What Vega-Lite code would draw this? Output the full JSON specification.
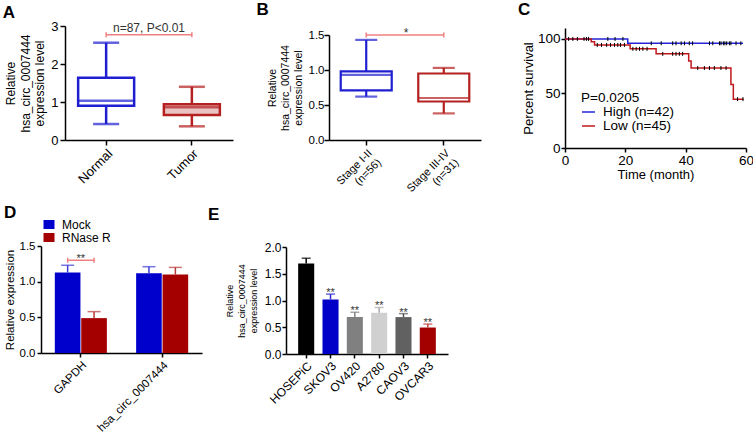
{
"$schema": "https://vega.github.io/schema/vega-lite/v6.json",
"padding": {"left": 2, "top": 0, "right": 2, "bottom": 0},
"datasets": {
 "boxA": [{"group":"Normal","min":0.42,"q1":0.90,"median":1.03,"q3":1.64,"max":2.56,"bracket":2.77,"note":"n=87, P<0.01"},{"group":"Tumor","min":0.36,"q1":0.66,"median":0.86,"q3":0.94,"max":1.40,"bracket":2.77,"note":""}],
 "boxB": [{"group":"Stage I-II (n=56)","min":0.62,"q1":0.71,"median":0.93,"q3":0.98,"max":1.43,"bracket":1.5,"note":"*"},{"group":"Stage III-IV (n=31)","min":0.38,"q1":0.55,"median":0.60,"q3":0.95,"max":1.03,"bracket":1.5,"note":""}],
 "kmLines": [
  {"group":"High (n=42)","time":0,"surv":100},{"group":"High (n=42)","time":20.8,"surv":96},{"group":"High (n=42)","time":59,"surv":96},
  {"group":"Low (n=45)","time":0,"surv":100},{"group":"Low (n=45)","time":8.7,"surv":97.5},{"group":"Low (n=45)","time":9.8,"surv":94.5},{"group":"Low (n=45)","time":21.6,"surv":90.9},{"group":"Low (n=45)","time":30.2,"surv":86.3},{"group":"Low (n=45)","time":41,"surv":79.7},{"group":"Low (n=45)","time":41.8,"surv":73.3},{"group":"Low (n=45)","time":55,"surv":58.2},{"group":"Low (n=45)","time":55.8,"surv":44.8},{"group":"Low (n=45)","time":59.2,"surv":44.8}
 ],
 "kmCensor": [
  {"time":1.2,"surv":100},{"time":2.6,"surv":100},{"time":4.1,"surv":100},{"time":6.3,"surv":100},{"time":7.1,"surv":100},{"time":7.8,"surv":100},{"time":14.2,"surv":100},{"time":16.6,"surv":100},{"time":19.2,"surv":100},
  {"time":28.6,"surv":96},{"time":31.9,"surv":96},{"time":35.7,"surv":96},{"time":36.8,"surv":96},{"time":38.5,"surv":96},{"time":39.6,"surv":96},{"time":41.2,"surv":96},{"time":42.3,"surv":96},{"time":47.9,"surv":96},{"time":49,"surv":96},{"time":51.2,"surv":96},{"time":51.7,"surv":96},{"time":52.5,"surv":96},{"time":53,"surv":96},{"time":53.6,"surv":96},{"time":54.5,"surv":96},{"time":55,"surv":96},{"time":56.7,"surv":96},{"time":58.3,"surv":96},
  {"time":10.7,"surv":94.5},{"time":12.1,"surv":94.5},{"time":13.8,"surv":94.5},{"time":15.1,"surv":94.5},{"time":16.4,"surv":94.5},{"time":17.5,"surv":94.5},{"time":18.4,"surv":94.5},{"time":19.7,"surv":94.5},
  {"time":22.5,"surv":90.9},{"time":23.6,"surv":90.9},{"time":24.7,"surv":90.9},{"time":25.8,"surv":90.9},{"time":27.2,"surv":90.9},
  {"time":32.4,"surv":86.3},{"time":35.7,"surv":86.3},{"time":36.8,"surv":86.3},{"time":37.9,"surv":86.3},{"time":39.0,"surv":86.3},
  {"time":44,"surv":73.3},{"time":46.2,"surv":73.3},{"time":47.9,"surv":73.3},{"time":49.5,"surv":73.3},{"time":51.7,"surv":73.3},{"time":53.4,"surv":73.3},
  {"time":57.2,"surv":44.8},{"time":59,"surv":44.8}
 ],
 "barD": [{"gene":"GAPDH","treatment":"Mock","value":1.127,"err":1.23,"bracket":1.30,"note":"**"},{"gene":"GAPDH","treatment":"RNase R","value":0.489,"err":0.58,"bracket":1.30,"note":""},{"gene":"hsa_circ_0007444","treatment":"Mock","value":1.118,"err":1.21,"bracket":null,"note":""},{"gene":"hsa_circ_0007444","treatment":"RNase R","value":1.10,"err":1.20,"bracket":null,"note":""}],
 "barE": [{"cell":"HOSEPiC","value":1.69,"err":1.79,"sig":""},{"cell":"SKOV3","value":1.02,"err":1.12,"sig":"**"},{"cell":"OV420","value":0.69,"err":0.78,"sig":"**"},{"cell":"A2780","value":0.77,"err":0.87,"sig":"**"},{"cell":"CAOV3","value":0.69,"err":0.755,"sig":"**"},{"cell":"OVCAR3","value":0.495,"err":0.56,"sig":"**"}]
},
"config": {
 "view": {"stroke": null},
 "font": "Liberation Sans",
 "axis": {"grid": false, "domainColor": "#000000", "domainWidth": 1.5, "tickColor": "#000000", "tickWidth": 1.5, "labelColor": "#000000", "titleColor": "#000000", "titleFontWeight": "normal", "labelFont": "Liberation Sans", "titleFont": "Liberation Sans", "labelFlush": false, "labelOverlap": false},
 "title": {"anchor": "start", "frame": "bounds", "fontSize": 17, "fontWeight": "bold", "color": "#000000", "font": "Liberation Sans"},
 "legend": {"labelFont": "Liberation Sans", "titleFont": "Liberation Sans", "labelColor": "#000000", "titleColor": "#000000"}
},
"resolve": {"scale": {"color": "independent", "fill": "independent", "stroke": "independent"}, "legend": {"color": "independent", "fill": "independent", "stroke": "independent"}},
"columns": 1,
"align": "none",
"spacing": 1,
"concat": [
 {"spacing": 23,
  "resolve": {"scale": {"color": "independent", "fill": "independent", "stroke": "independent"}, "legend": {"color": "independent", "fill": "independent", "stroke": "independent"}},
  "hconcat": [
   {"title": {"text": "A", "offset": -2, "dx": -2},
    "width": 168, "height": 114,
    "data": {"name": "boxA"},
    "layer": [
     {"mark": {"type": "rule", "strokeWidth": 2.5},
      "encoding": {"x": {"field": "group", "type": "nominal", "sort": null, "title": null, "scale": {"paddingInner": 0.4, "paddingOuter": 0.18}, "axis": {"labelAngle": -45, "labelFontSize": 13, "tickSize": 5, "labelPadding": 2}},
       "y": {"field": "min", "type": "quantitative", "scale": {"domain": [0, 3], "nice": false}, "axis": {"values": [0, 1, 2, 3], "tickCount": 20, "format": "d", "title": ["Relative", "hsa_circ_0007444", "expression level"], "titleFontSize": 12, "titleLineHeight": 14.5, "titlePadding": 4, "labelFontSize": 13, "tickSize": 5, "labelPadding": 2}},
       "y2": {"field": "max"},
       "color": {"field": "group", "type": "nominal", "scale": {"range": ["#1f1fd1", "#b52020"]}, "legend": null}}},
     {"mark": {"type": "bar", "width": 56, "strokeWidth": 2.5},
      "encoding": {"x": {"field": "group", "type": "nominal", "sort": null},
       "y": {"field": "q1", "type": "quantitative"}, "y2": {"field": "q3"},
       "fill": {"field": "group", "type": "nominal", "scale": {"range": ["#ffffff", "#eac3c3"]}, "legend": null},
       "stroke": {"field": "group", "type": "nominal", "scale": {"range": ["#1f1fd1", "#b52020"]}, "legend": null}}},
     {"mark": {"type": "tick", "thickness": 2.5, "size": 56},
      "encoding": {"x": {"field": "group", "type": "nominal", "sort": null}, "y": {"field": "median", "type": "quantitative"}, "color": {"field": "group", "type": "nominal", "legend": null}}},
     {"mark": {"type": "tick", "thickness": 2.5, "size": 26},
      "encoding": {"x": {"field": "group", "type": "nominal", "sort": null}, "y": {"field": "min", "type": "quantitative"}, "color": {"field": "group", "type": "nominal", "legend": null}}},
     {"mark": {"type": "tick", "thickness": 2.5, "size": 26},
      "encoding": {"x": {"field": "group", "type": "nominal", "sort": null}, "y": {"field": "max", "type": "quantitative"}, "color": {"field": "group", "type": "nominal", "legend": null}}},
     {"mark": {"type": "line", "color": "#f08080", "strokeWidth": 1.5},
      "encoding": {"x": {"field": "group", "type": "nominal", "sort": null}, "y": {"field": "bracket", "type": "quantitative"}}},
     {"mark": {"type": "point", "shape": "M0,-1V1", "filled": false, "stroke": "#f08080", "strokeWidth": 1.5, "size": 25, "opacity": 1},
      "encoding": {"x": {"field": "group", "type": "nominal", "sort": null}, "y": {"field": "bracket", "type": "quantitative"}}},
     {"mark": {"type": "text", "fontSize": 12, "baseline": "alphabetic", "dy": -3.2, "color": "#333333"},
      "encoding": {"y": {"field": "bracket", "type": "quantitative"}, "text": {"field": "note"}}}
    ]},
   {"title": {"text": "B", "offset": 7.4, "dx": -10.5},
    "width": 165, "height": 114,
    "data": {"name": "boxB"},
    "layer": [
     {"mark": {"type": "rule", "strokeWidth": 2.2},
      "encoding": {"x": {"field": "group", "type": "nominal", "sort": null, "title": null, "scale": {"range": [0, 152], "paddingInner": 0.4, "paddingOuter": 0.18}, "axis": {"labelAngle": -45, "labelFontSize": 11, "tickSize": 5, "labelPadding": 2, "labelLineHeight": 13, "labelExpr": "[split(datum.label, ' (')[0], '(' + split(datum.label, ' (')[1]]"}},
       "y": {"field": "min", "type": "quantitative", "scale": {"domain": [0, 1.5], "nice": false, "range": [114, 9]}, "axis": {"values": [0, 0.5, 1, 1.5], "tickCount": 20, "format": ".1f", "title": ["Relative", "hsa_circ_0007444", "expression level"], "titleFontSize": 10.5, "titleLineHeight": 13, "titlePadding": 5, "labelFontSize": 11.5, "tickSize": 5, "labelPadding": 0}},
       "y2": {"field": "max"},
       "color": {"field": "group", "type": "nominal", "scale": {"range": ["#1f1fd1", "#b52020"]}, "legend": null}}},
     {"mark": {"type": "bar", "width": 51, "strokeWidth": 2.2, "fill": "#ffffff"},
      "encoding": {"x": {"field": "group", "type": "nominal", "sort": null},
       "y": {"field": "q1", "type": "quantitative"}, "y2": {"field": "q3"},
       "stroke": {"field": "group", "type": "nominal", "scale": {"range": ["#1f1fd1", "#b52020"]}, "legend": null}}},
     {"mark": {"type": "tick", "thickness": 2.2, "size": 51},
      "encoding": {"x": {"field": "group", "type": "nominal", "sort": null}, "y": {"field": "median", "type": "quantitative"}, "color": {"field": "group", "type": "nominal", "legend": null}}},
     {"mark": {"type": "tick", "thickness": 2.2, "size": 22},
      "encoding": {"x": {"field": "group", "type": "nominal", "sort": null}, "y": {"field": "min", "type": "quantitative"}, "color": {"field": "group", "type": "nominal", "legend": null}}},
     {"mark": {"type": "tick", "thickness": 2.2, "size": 22},
      "encoding": {"x": {"field": "group", "type": "nominal", "sort": null}, "y": {"field": "max", "type": "quantitative"}, "color": {"field": "group", "type": "nominal", "legend": null}}},
     {"mark": {"type": "line", "color": "#f08080", "strokeWidth": 1.5},
      "encoding": {"x": {"field": "group", "type": "nominal", "sort": null}, "y": {"field": "bracket", "type": "quantitative"}}},
     {"mark": {"type": "point", "shape": "M0,-1V1", "filled": false, "stroke": "#f08080", "strokeWidth": 1.5, "size": 25, "opacity": 1},
      "encoding": {"x": {"field": "group", "type": "nominal", "sort": null}, "y": {"field": "bracket", "type": "quantitative"}}},
     {"mark": {"type": "text", "fontSize": 12, "baseline": "alphabetic", "dy": 2, "dx": -5.5, "color": "#333333"},
      "encoding": {"y": {"field": "bracket", "type": "quantitative"}, "text": {"field": "note"}}}
    ]},
   {"title": {"text": "C", "offset": 7.4, "dx": -4.5},
    "width": 181, "height": 122,
    "layer": [
     {"data": {"name": "kmLines"}, "mark": {"type": "line", "interpolate": "step-after", "strokeWidth": 1.5},
      "encoding": {"x": {"field": "time", "type": "quantitative", "scale": {"domain": [0, 60], "nice": false}, "axis": {"values": [0, 20, 40, 60], "tickCount": 20, "title": "Time (month)", "titleFontSize": 13, "titlePadding": 2, "labelFontSize": 13.5, "tickSize": 4, "labelPadding": 1}},
       "y": {"field": "surv", "type": "quantitative", "scale": {"domain": [0, 110], "nice": false, "range": [122, 2]}, "axis": {"values": [0, 50, 100], "tickCount": 20, "title": "Percent survival", "titleFontSize": 13, "titlePadding": 2, "labelFontSize": 13.5, "tickSize": 4, "labelPadding": 1}},
       "color": {"field": "group", "type": "nominal", "scale": {"domain": ["High (n=42)", "Low (n=45)"], "range": ["#2424d8", "#c0191b"]},
        "legend": {"title": "P=0.0205", "orient": "none", "legendX": 16, "legendY": 65, "titleFontSize": 13.5, "titleFontWeight": "normal", "titlePadding": 0, "labelFontSize": 13.5, "symbolType": "stroke", "symbolSize": 169, "symbolStrokeWidth": 1.5, "labelOffset": 7, "rowPadding": 0, "padding": 0}}}},
     {"data": {"name": "kmCensor"}, "mark": {"type": "point", "shape": "M0,-1V1", "filled": false, "stroke": "#000000", "strokeWidth": 1, "size": 16, "opacity": 1},
      "encoding": {"x": {"field": "time", "type": "quantitative"}, "y": {"field": "surv", "type": "quantitative"}}}
    ]}
 ]},
 {"spacing": -18,
  "resolve": {"scale": {"color": "independent", "fill": "independent", "stroke": "independent"}, "legend": {"color": "independent", "fill": "independent", "stroke": "independent"}},
  "hconcat": [
  {"title": {"text": "D", "offset": -2.1, "dx": 0},
   "width": 137, "height": 107,
   "data": {"name": "barD"},
   "layer": [
    {"mark": {"type": "bar"},
     "encoding": {"x": {"field": "gene", "type": "nominal", "sort": null, "title": null, "scale": {"range": [-24, 137], "paddingInner": 0.36, "paddingOuter": 0.17}, "axis": {"labelAngle": -45, "labelFontSize": 11.5, "tickSize": 4, "labelPadding": 2}},
      "xOffset": {"field": "treatment", "type": "nominal", "scale": {"paddingInner": 0.03}},
      "y": {"field": "value", "type": "quantitative", "scale": {"domain": [0, 1.5], "nice": false}, "axis": {"offset": 24, "values": [0, 0.5, 1, 1.5], "tickCount": 20, "format": ".1f", "title": "Relative expression", "titleFontSize": 11.5, "titlePadding": 4, "labelFontSize": 11.5, "tickSize": 4, "labelPadding": 2}},
      "color": {"field": "treatment", "type": "nominal", "scale": {"range": ["#0000cc", "#a50000"]},
       "legend": {"title": null, "orient": "none", "legendX": -22, "legendY": -26, "symbolType": "M-1,-0.8H1V0.8H-1Z", "symbolSize": 121, "symbolStrokeWidth": 0, "labelFontSize": 12, "labelOffset": 7, "clipHeight": 9, "rowPadding": 0, "padding": 0}}}},
    {"mark": {"type": "rule", "strokeWidth": 1.5},
     "encoding": {"x": {"field": "gene", "type": "nominal", "sort": null}, "xOffset": {"field": "treatment", "type": "nominal"},
      "y": {"field": "value", "type": "quantitative"}, "y2": {"field": "err"},
      "stroke": {"field": "treatment", "type": "nominal", "scale": {"range": ["#3a3ad8", "#b83a3a"]}, "legend": null}}},
    {"mark": {"type": "tick", "thickness": 1.5, "size": 13},
     "encoding": {"x": {"field": "gene", "type": "nominal", "sort": null}, "xOffset": {"field": "treatment", "type": "nominal"},
      "y": {"field": "err", "type": "quantitative"},
      "fill": {"field": "treatment", "type": "nominal", "scale": {"range": ["#3a3ad8", "#b83a3a"]}, "legend": null}}},
    {"mark": {"type": "line", "color": "#f08080", "strokeWidth": 1.5},
     "encoding": {"x": {"field": "gene", "type": "nominal", "sort": null}, "xOffset": {"field": "treatment", "type": "nominal"}, "y": {"field": "bracket", "type": "quantitative"}}},
    {"mark": {"type": "point", "shape": "M0,-1V1", "filled": false, "stroke": "#f08080", "strokeWidth": 1.5, "size": 25, "opacity": 1},
     "encoding": {"x": {"field": "gene", "type": "nominal", "sort": null}, "xOffset": {"field": "treatment", "type": "nominal"}, "y": {"field": "bracket", "type": "quantitative"}}},
    {"mark": {"type": "text", "fontSize": 11, "baseline": "alphabetic", "dy": 2, "color": "#333333"},
     "encoding": {"x": {"field": "gene", "type": "nominal", "sort": null}, "y": {"field": "bracket", "type": "quantitative"}, "text": {"field": "note"}}}
   ]},
  {"title": {"text": "E", "offset": 16.9, "dx": -17.3},
   "width": 162, "height": 108,
   "data": {"name": "barE"},
   "encoding": {"x": {"field": "cell", "type": "nominal", "sort": null, "title": null, "scale": {"paddingInner": 0.34, "paddingOuter": 0.5}, "axis": {"labelAngle": -45, "labelFontSize": 12, "tickSize": 4, "labelPadding": 2}}},
   "layer": [
    {"mark": {"type": "bar"},
     "encoding": {"y": {"field": "value", "type": "quantitative", "scale": {"domain": [0, 2], "nice": false, "range": [108, 1]}, "axis": {"values": [0, 0.5, 1, 1.5, 2], "tickCount": 20, "format": ".1f", "title": ["Relative", "hsa_circ_0007444", "expression level"], "titleFontSize": 9, "titleLineHeight": 12, "titlePadding": 6, "labelFontSize": 12, "tickSize": 4, "labelPadding": 1}},
      "color": {"field": "cell", "type": "nominal", "scale": {"domain": ["HOSEPiC", "SKOV3", "OV420", "A2780", "CAOV3", "OVCAR3"], "range": ["#000000", "#0000c8", "#808080", "#d0d0d0", "#616161", "#a30000"]}, "legend": null}}},
    {"mark": {"type": "rule", "strokeWidth": 1.5},
     "encoding": {"y": {"field": "value", "type": "quantitative"}, "y2": {"field": "err"},
      "stroke": {"field": "cell", "type": "nominal", "scale": {"domain": ["HOSEPiC", "SKOV3", "OV420", "A2780", "CAOV3", "OVCAR3"], "range": ["#000000", "#2a2ad0", "#808080", "#a8a8a8", "#555555", "#c04040"]}, "legend": null}}},
    {"mark": {"type": "tick", "thickness": 1.5, "size": 9},
     "encoding": {"y": {"field": "err", "type": "quantitative"},
      "fill": {"field": "cell", "type": "nominal", "scale": {"domain": ["HOSEPiC", "SKOV3", "OV420", "A2780", "CAOV3", "OVCAR3"], "range": ["#000000", "#2a2ad0", "#808080", "#a8a8a8", "#555555", "#c04040"]}, "legend": null}}},
    {"mark": {"type": "text", "fontSize": 11, "baseline": "alphabetic", "dy": 2, "color": "#333333"},
     "encoding": {"y": {"field": "err", "type": "quantitative"}, "text": {"field": "sig"}}}
   ]}
 ]}
]
}
